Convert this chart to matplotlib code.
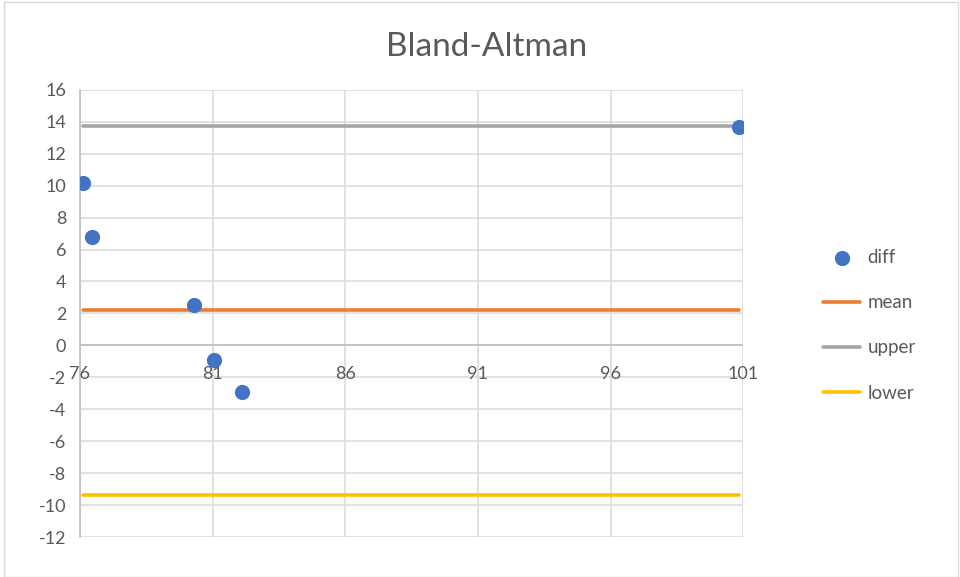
import matplotlib
matplotlib.use("Agg")
import matplotlib.pyplot as plt
from matplotlib.patches import Rectangle

# Bland-Altman data: average of the two measurements vs. their difference
averages = [76.1, 76.45, 80.3, 81.05, 82.1, 100.85]
diffs = [10.15, 6.8, 2.55, -0.9, -2.95, 13.65]
mean_diff = 2.2
upper_loa = 13.75
lower_loa = -9.35

x_ticks = [76, 81, 86, 91, 96, 101]
y_ticks = list(range(-12, 17, 2))

plt.rcParams['font.family'] = ['Lato', 'DejaVu Sans']
plt.rcParams['axes.unicode_minus'] = False
text_color = '#595959'

fig = plt.figure(figsize=(9.6, 5.77), dpi=100)
fig.patches.append(Rectangle((0.004, 0.0), 0.994, 0.996, transform=fig.transFigure,
                             fill=False, edgecolor='#d9d9d9', linewidth=1))
ax = fig.add_axes([0.0833, 0.0693, 0.6909, 0.7750])

ax.set_xlim(76, 101)
ax.set_ylim(-12, 16)
ax.set_xticks(x_ticks)
ax.set_yticks(y_ticks)
ax.grid(True, color='#d9d9d9', linewidth=1.1)
ax.set_axisbelow(True)

for side in ['top', 'right', 'bottom']:
    ax.spines[side].set_visible(False)
ax.spines['left'].set_color('#bfbfbf')
ax.spines['left'].set_linewidth(1.2)
ax.axhline(0, color='#bfbfbf', linewidth=1.2, zorder=1)

ax.tick_params(axis='both', length=0, labelsize=13, labelcolor=text_color)
ax.tick_params(axis='y', pad=10)
ax.set_xticklabels([])
for xv in x_ticks:
    ax.text(xv, -1.3, str(xv), ha='center', va='top', fontsize=13, color=text_color)

n = len(averages)
ax.plot(averages, [mean_diff] * n, color='#ed7d31', linewidth=2.6, label='mean',
        solid_capstyle='round', zorder=2)
ax.plot(averages, [upper_loa] * n, color='#a5a5a5', linewidth=2.6, label='upper',
        solid_capstyle='round', zorder=2)
ax.plot(averages, [lower_loa] * n, color='#ffc000', linewidth=2.6, label='lower',
        solid_capstyle='round', zorder=2)
ax.scatter(averages, diffs, s=120, color='#4472c4', label='diff', zorder=3, linewidths=0)

fig.text(0.507, 0.918, 'Bland-Altman', ha='center', va='center',
         fontsize=24, color=text_color)

handles, labels = ax.get_legend_handles_labels()
order = [3, 0, 1, 2]
fig.legend([handles[i] for i in order], [labels[i] for i in order],
           loc='center left', bbox_to_anchor=(0.8396, 0.436), frameon=False,
           fontsize=13.5, labelcolor=text_color, labelspacing=1.5,
           handlelength=2.0, handletextpad=0.37, scatterpoints=1)

fig.savefig('out.png', dpi=100)
